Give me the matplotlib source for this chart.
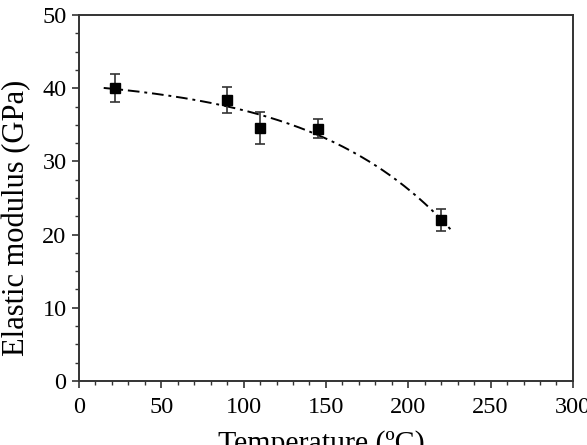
import numpy as np
import matplotlib

matplotlib.use("Agg")
import matplotlib.pyplot as plt
from matplotlib.ticker import MultipleLocator

temperature = [22, 90, 110, 145, 220]
modulus = [40.0, 38.4, 34.6, 34.5, 22.0]
modulus_err = [1.9, 1.8, 2.2, 1.35, 1.5]

# trend line: E = a - b*exp(T/c), fitted to the points above
t = np.asarray(temperature, dtype=float)
e = np.asarray(modulus, dtype=float)
best = None
for c in np.linspace(30, 200, 341):
    design = np.column_stack([np.ones_like(t), -np.exp(t / c)])
    coef, *_ = np.linalg.lstsq(design, e, rcond=None)
    resid = np.sum((design @ coef - e) ** 2)
    if best is None or resid < best[0]:
        best = (resid, coef, c)
_, (a, b), c = best
t_fit = np.linspace(15, 226, 200)
e_fit = a - b * np.exp(t_fit / c)

plt.rcParams["font.family"] = ["Liberation Serif", "DejaVu Serif"]

fig = plt.figure(figsize=(5.87, 4.45), dpi=100)
ax = fig.add_axes([0.1346, 0.144, 0.8414, 0.822])

ax.plot(t_fit, e_fit, color="black", linestyle=(0, (6, 2.5, 1.5, 2.5)), linewidth=1.4)
ax.errorbar(temperature, modulus, yerr=modulus_err, fmt="s", color="black",
            ecolor="#333333", markersize=6.5, capsize=3.5, elinewidth=1.2,
            capthick=1.2)

ax.set_xlim(0, 300)
ax.set_ylim(0, 50)
ax.xaxis.set_major_locator(MultipleLocator(50))
ax.xaxis.set_minor_locator(MultipleLocator(10))
ax.yaxis.set_major_locator(MultipleLocator(10))
ax.yaxis.set_minor_locator(MultipleLocator(2.5))
ax.tick_params(which="major", direction="out", length=5, width=1.2,
               labelsize=17.5, color="#333333")
ax.tick_params(which="minor", direction="out", length=3, width=1.0,
               color="#333333")
ax.tick_params(axis="x", which="major", pad=6.5)
ax.tick_params(axis="y", which="major", pad=4)
for spine in ax.spines.values():
    spine.set_linewidth(1.4)
    spine.set_color("#333333")

ax.set_ylabel("Elastic modulus (GPa)", fontsize=22)
ax.yaxis.set_label_coords(-0.097, 0.447)
ax.set_xlabel("Temperature (ºC)", fontsize=21.5)
ax.xaxis.set_label_coords(0.49, -0.135)

fig.savefig("out.png", dpi=100)
